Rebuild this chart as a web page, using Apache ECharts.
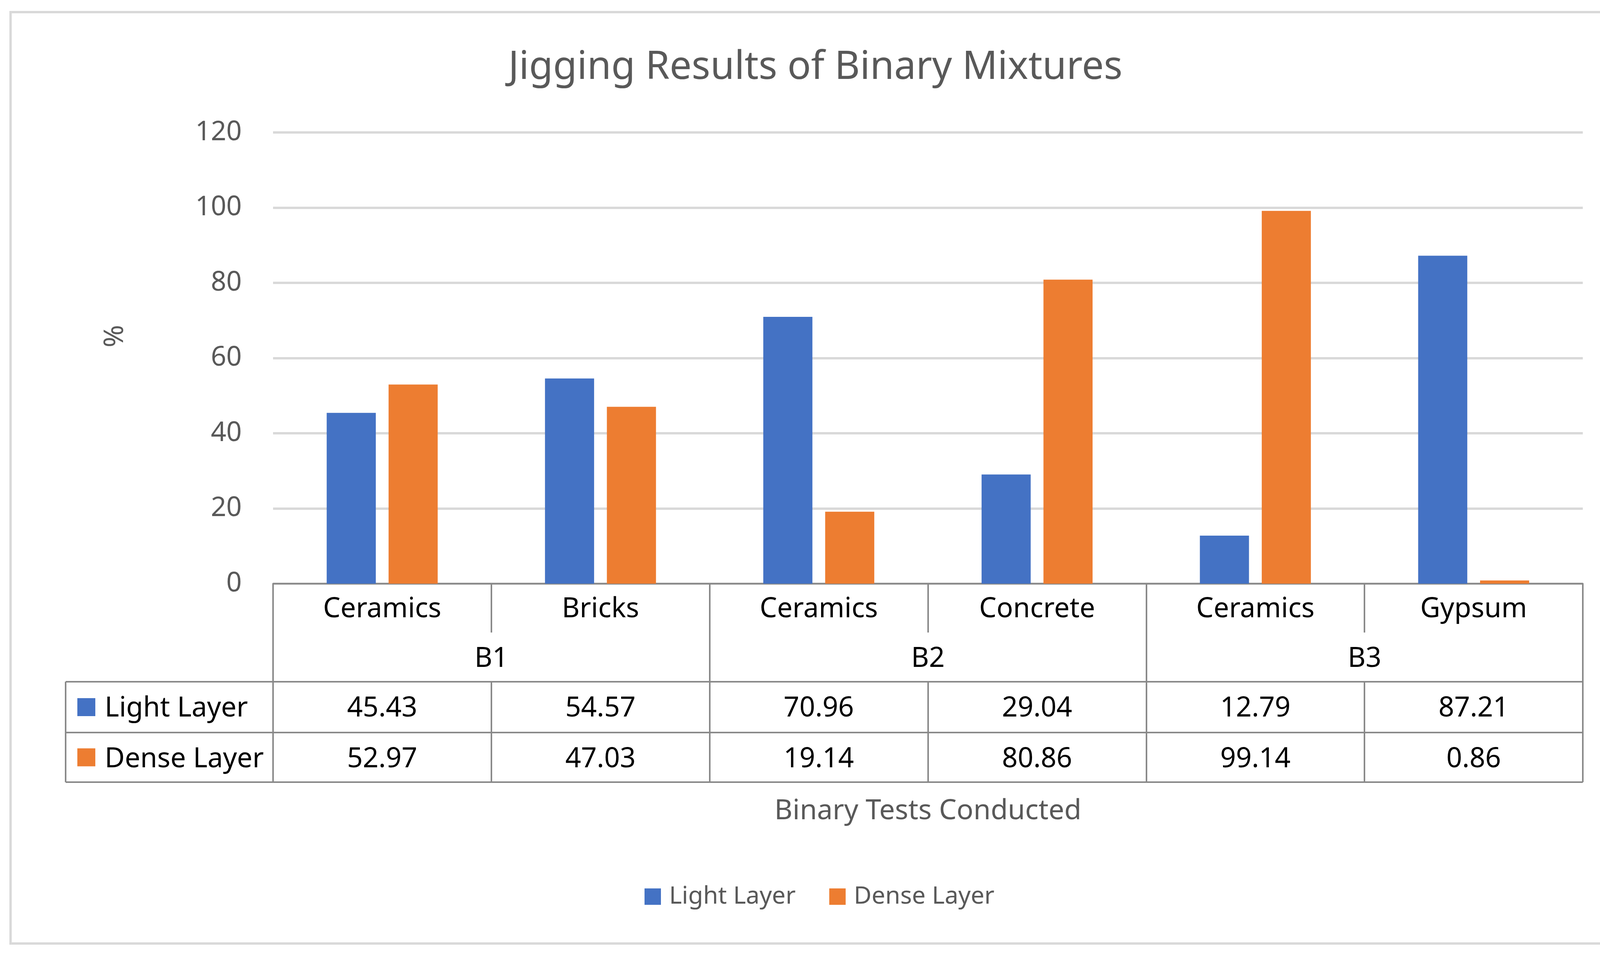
<!DOCTYPE html>
<html>
<head>
<meta charset="utf-8">
<title>Jigging Results of Binary Mixtures</title>
<script src="https://cdn.jsdelivr.net/npm/echarts@6/dist/echarts.min.js"></script>
<style>
  html, body { margin: 0; padding: 0; background: #fff; }
  #main { width: 4175px; height: 2447px; }
</style>
</head>
<body>
<div id="main"></div>
<script>
// chart data
var tests = ['B1', 'B2', 'B3'];
var materials = ['Ceramics', 'Bricks', 'Ceramics', 'Concrete', 'Ceramics', 'Gypsum'];
var seriesNames = ['Light Layer', 'Dense Layer'];
var lightLayer = [45.43, 54.57, 70.96, 29.04, 12.79, 87.21];
var denseLayer = [52.97, 47.03, 19.14, 80.86, 99.14, 0.86];
var yTicks = [0, 20, 40, 60, 80, 100, 120];

var titleText = 'Jigging Results of Binary Mixtures';
var xTitle = 'Binary Tests Conducted';
var yTitle = '%';

// layout
var gridLeft = 699, gridRight = 4052, gridTop = 339, axisY = 1494;
var rowCat = 125, rowGrp = 126, rowLight = 130, rowDense = 127;
var yLight = axisY + rowCat + rowGrp;
var yDense = yLight + rowLight;
var yEnd = yDense + rowDense;
var tableLeft = 168;

var colors = ['#4472C4', '#ED7D31'];
var lineGray = '#898989';
var textGray = '#595959';
var font = 'Noto Sans';

// the original uses Calibri; size Noto Sans so the text runs the same width
var measure = document.createElement('canvas').getContext('2d');
function fitSize(text, width) {
  measure.font = '100px "' + font + '"';
  return Math.round(1000 * width / measure.measureText(text).width) / 10;
}
var titleSize = fitSize(titleText, 1573);
var cellSize = fitSize('Ceramics', 303);
var tickSize = fitSize('120', 119);
var nameSize = fitSize(xTitle, 786);
var legendSize = fitSize('Light Layer', 324);
var mid = 0.3; // baseline to middle of text, in em

var chart = echarts.init(document.getElementById('main'));

function fmt(v) { return v.toFixed(2); }

var tableLine = { show: true, lineStyle: { color: lineGray, width: 4 } };
function tick(len) {
  return { show: true, interval: 0, length: len, lineStyle: { color: lineGray, width: 4 } };
}
// margin measured from axis line down to the text baseline
function cellLabel(toBaseline) {
  return {
    interval: 0, margin: toBaseline - mid * cellSize, verticalAlign: 'middle',
    fontSize: cellSize, color: '#000', fontFamily: font
  };
}

var option = {
  animation: false,
  backgroundColor: '#fff',
  textStyle: { fontFamily: font },
  color: colors,
  title: {
    text: titleText,
    left: 'center',
    top: 203 - mid * titleSize - titleSize / 2,
    padding: 0,
    textStyle: { fontSize: titleSize, fontWeight: 'normal', color: textGray, fontFamily: font }
  },
  legend: {
    data: seriesNames,
    left: 1650,
    top: 2274 - (legendSize - 42) / 2,
    padding: 0,
    icon: 'rect',
    itemWidth: 42,
    itemHeight: 42,
    itemGap: 86,
    textStyle: { fontSize: legendSize, color: textGray, fontFamily: font, padding: [0, 0, 0, 16] }
  },
  grid: {
    left: gridLeft,
    right: 4175 - gridRight,
    top: gridTop,
    bottom: 2447 - axisY,
    outerBoundsMode: 'none'
  },
  xAxis: [
    { // materials row
      type: 'category', data: materials, position: 'bottom', offset: 0,
      axisLine: tableLine, axisTick: tick(rowCat),
      axisLabel: cellLabel(1581 - axisY),
      splitLine: { show: false }
    },
    { // test groups row
      type: 'category', data: tests, position: 'bottom', offset: 0,
      axisLine: { show: false }, axisTick: tick(rowCat + rowGrp),
      axisLabel: cellLabel(1708 - axisY),
      splitLine: { show: false }
    },
    { // light layer values row
      type: 'category', data: lightLayer.map(fmt), position: 'bottom', offset: rowCat + rowGrp,
      axisLine: tableLine, axisTick: tick(rowLight),
      axisLabel: cellLabel(1835 - yLight),
      splitLine: { show: false }
    },
    { // dense layer values row
      type: 'category', data: denseLayer.map(fmt), position: 'bottom', offset: rowCat + rowGrp + rowLight,
      axisLine: tableLine, axisTick: tick(rowDense),
      axisLabel: cellLabel(1965 - yDense),
      splitLine: { show: false },
      name: xTitle,
      nameLocation: 'middle',
      nameGap: 2098 - mid * nameSize - yDense,
      nameMoveOverlap: false,
      nameTextStyle: { fontSize: nameSize, color: textGray, verticalAlign: 'middle', fontFamily: font }
    }
  ],
  yAxis: {
    type: 'value',
    min: yTicks[0],
    max: yTicks[yTicks.length - 1],
    interval: yTicks[1] - yTicks[0],
    axisLine: { show: false },
    axisTick: { show: false },
    axisLabel: { fontSize: tickSize, color: textGray, margin: 80, fontFamily: font },
    splitLine: { lineStyle: { color: '#D9D9D9', width: 6 } },
    name: yTitle,
    nameLocation: 'middle',
    nameRotate: 90,
    nameGap: 404,
    nameMoveOverlap: false,
    nameTextStyle: { fontSize: tickSize, color: textGray, verticalAlign: 'middle', fontFamily: font, padding: [0, 0, 0, 112] }
  },
  series: [
    {
      name: seriesNames[0], type: 'bar', data: lightLayer,
      xAxisIndex: 0, barWidth: '22.5%', barGap: '26%',
      itemStyle: { color: colors[0] }
    },
    {
      name: seriesNames[1], type: 'bar', data: denseLayer,
      xAxisIndex: 0, barWidth: '22.5%', barGap: '26%',
      itemStyle: { color: colors[1] }
    }
  ],
  graphic: [
    // outer frame
    { type: 'rect', shape: { x: 27, y: 31, width: 4117, height: 2384 }, style: { fill: 'none', stroke: '#D9D9D9', lineWidth: 6 }, z: -1 },
    // left column of the data table
    { type: 'line', shape: { x1: tableLeft, y1: yLight, x2: gridLeft, y2: yLight }, style: { stroke: lineGray, lineWidth: 4 } },
    { type: 'line', shape: { x1: tableLeft, y1: yDense, x2: gridLeft, y2: yDense }, style: { stroke: lineGray, lineWidth: 4 } },
    { type: 'line', shape: { x1: tableLeft, y1: yEnd, x2: gridRight, y2: yEnd }, style: { stroke: lineGray, lineWidth: 4 } },
    { type: 'line', shape: { x1: tableLeft, y1: yLight, x2: tableLeft, y2: yEnd }, style: { stroke: lineGray, lineWidth: 4 } },
    { type: 'rect', shape: { x: tableLeft + 30, y: yLight + rowLight / 2 - 23, width: 46, height: 46 }, style: { fill: colors[0] } },
    { type: 'rect', shape: { x: tableLeft + 30, y: yDense + rowDense / 2 - 23, width: 46, height: 46 }, style: { fill: colors[1] } },
    { type: 'text', x: tableLeft + 100, y: 1835 - mid * cellSize,
      style: { text: seriesNames[0], fontSize: cellSize, fontFamily: font, fill: '#000', align: 'left', verticalAlign: 'middle' } },
    { type: 'text', x: tableLeft + 100, y: 1965 - mid * cellSize,
      style: { text: seriesNames[1], fontSize: cellSize, fontFamily: font, fill: '#000', align: 'left', verticalAlign: 'middle' } }
  ]
};

chart.setOption(option);
</script>
</body>
</html>
